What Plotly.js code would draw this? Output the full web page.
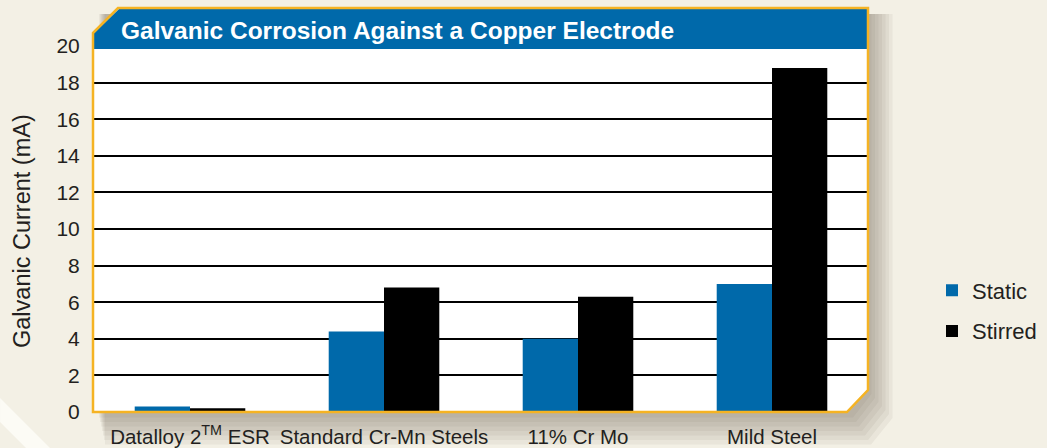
<!DOCTYPE html>
<html>
<head>
<meta charset="utf-8">
<script src="https://cdn.plot.ly/plotly-3.0.1.min.js"></script>
<style>
  html, body { margin: 0; padding: 0; background: #F3F0E5; }
  #chart { width: 1047px; height: 448px; }
</style>
</head>
<body>
<div id="chart"></div>
<script>
// Galvanic current measured against a copper electrode (mA)
const categories = ["Datalloy 2<sup>TM</sup> ESR", "Standard Cr-Mn Steels", "11% Cr Mo", "Mild Steel"];
const staticCurrent = [0.3, 4.4, 4.0, 7.0];
const stirredCurrent = [0.2, 6.8, 6.3, 18.8];
const yTicks = [0, 2, 4, 6, 8, 10, 12, 14, 16, 18, 20];

const W = 1047, H = 448;
const M = { l: 93, r: 178, t: 46, b: 36 };
const plotW = W - M.l - M.r, plotH = H - M.t - M.b;

// pixel -> paper helpers for the decorative frame
const px = x => ((x - M.l) / plotW).toFixed(4);
const py = y => ((M.t + plotH - y) / plotH).toFixed(4);
const path = pts => "M" + pts.map(p => px(p[0]) + "," + py(p[1])).join(" L") + " Z";

const shapes = [];
// soft drop shadow to the right and below the panel
for (let i = 1; i <= 7; i++) {
  shapes.push({
    type: "path", xref: "paper", yref: "paper", layer: "below",
    path: path([[98 + i, 14], [868 + 3.5 * i, 14], [868 + 3.5 * i, 390 + 4 * i], [850 + 3 * i, 413 + 4.5 * i], [98 + i, 413 + 4.5 * i]]),
    fillcolor: "rgba(110,108,85,0.08)", line: { width: 0 }
  });
}
// lighter diagonal streak at the bottom-left corner
shapes.push({
  type: "path", xref: "paper", yref: "paper", layer: "below",
  path: path([[0, 398], [50, 448], [26, 448], [0, 422]]),
  fillcolor: "rgba(255,255,252,0.7)", line: { width: 0 }
});
// white panel
const panel = [[93, 33], [118, 8], [868, 8], [868, 390], [847, 412], [93, 412]];
shapes.push({
  type: "path", xref: "paper", yref: "paper", layer: "below",
  path: path(panel), fillcolor: "#FFFFFF", line: { width: 0 }
});
// blue title band
shapes.push({
  type: "path", xref: "paper", yref: "paper", layer: "above",
  path: path([[93, 49], [93, 34], [119, 9], [868, 9], [868, 49]]),
  fillcolor: "#0069AA", line: { width: 0 }
});
// orange frame
shapes.push({
  type: "path", xref: "paper", yref: "paper", layer: "above",
  path: path(panel), fillcolor: "rgba(0,0,0,0)", line: { color: "#F5B323", width: 2.5 }
});

const data = [
  {
    type: "bar", name: "Static", x: categories, y: staticCurrent,
    marker: { color: "#0069AA", line: { width: 0 } }, legendgroup: "a"
  },
  {
    type: "bar", name: "Stirred", x: categories, y: stirredCurrent,
    marker: { color: "#000000", line: { width: 0 } }, legendgroup: "b"
  }
];

const font = "'Liberation Sans', Arial, Helvetica, sans-serif";

const layout = {
  width: W, height: H,
  margin: M,
  paper_bgcolor: "#F3F0E5",
  plot_bgcolor: "rgba(0,0,0,0)",
  barmode: "group",
  bargap: 0.43,
  bargroupgap: 0,
  font: { family: font, color: "#231F20", size: 20 },
  showlegend: true,
  legend: {
    xref: "container", yref: "container",
    x: 932 / W, xanchor: "left", y: (H - 311) / H, yanchor: "middle",
    bgcolor: "rgba(0,0,0,0)", font: { size: 22, color: "#231F20" },
    traceorder: "grouped", tracegroupgap: 9
  },
  xaxis: {
    type: "category", range: [-0.5, 3.5], fixedrange: true,
    showgrid: false, zeroline: false, showline: false,
    ticks: "outside", ticklen: 6, tickcolor: "rgba(0,0,0,0)",
    tickfont: { size: 20.5, color: "#231F20" }
  },
  yaxis: {
    range: [0, 20], fixedrange: true,
    tickvals: yTicks, ticktext: yTicks.map(String),
    showgrid: true, gridcolor: "#000000", gridwidth: 2,
    zeroline: false, showline: false,
    ticks: "outside", ticklen: 8, tickcolor: "rgba(0,0,0,0)",
    tickfont: { size: 21, color: "#231F20" }
  },
  shapes: shapes,
  annotations: [
    {
      xref: "paper", yref: "paper", x: px(119), y: py(31),
      xanchor: "left", yanchor: "middle", showarrow: false,
      text: "<b>Galvanic Corrosion Against a Copper Electrode</b>",
      font: { family: font, size: 24.5, color: "#FFFFFF" }
    },
    {
      // y-axis title
      xref: "paper", yref: "paper", x: px(22), y: py(231),
      xanchor: "center", yanchor: "middle", showarrow: false, textangle: -90,
      text: "Galvanic Current (mA)",
      font: { family: font, size: 23.5, color: "#231F20" }
    }
  ]
};

Plotly.newPlot("chart", data, layout, { displayModeBar: false, staticPlot: true });
</script>
</body>
</html>
